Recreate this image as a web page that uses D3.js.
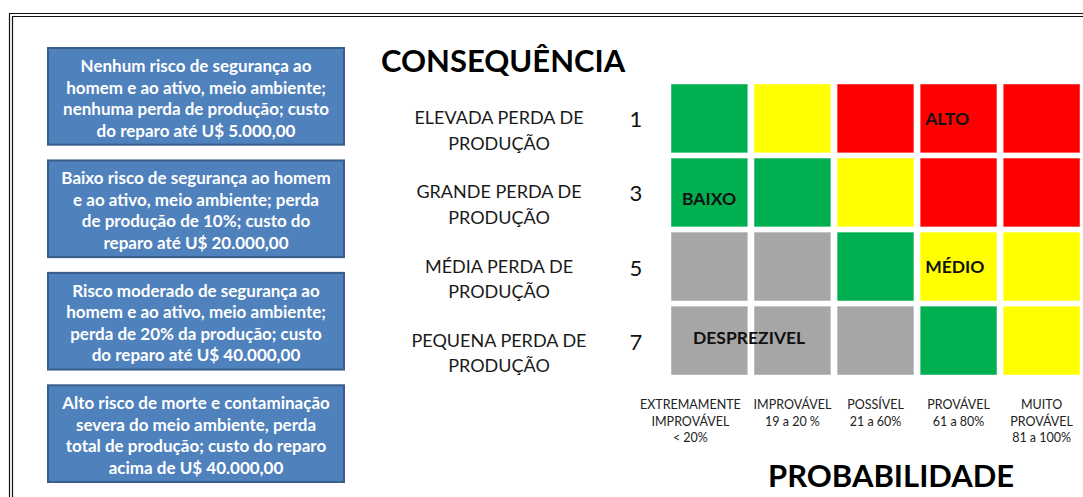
<!DOCTYPE html>
<html>
<head>
<meta charset="utf-8">
<script src="https://cdn.jsdelivr.net/npm/d3@7"></script>
<style>
  body { margin: 0; background: #fff; }
  svg { display: block; font-family: Lato, "Open Sans", sans-serif; }
</style>
</head>
<body>
<div id="chart"></div>
<script>
"use strict";

// probability columns (x) and consequence rows (y)
var probabilities = ["EXTREMAMENTE IMPROVÁVEL", "IMPROVÁVEL", "POSSÍVEL", "PROVÁVEL", "MUITO PROVÁVEL"];
var probabilityLines = [
    ["EXTREMAMENTE", "IMPROVÁVEL", "< 20%"],
    ["IMPROVÁVEL", "19 a 20 %"],
    ["POSSÍVEL", "21 a 60%"],
    ["PROVÁVEL", "61 a 80%"],
    ["MUITO", "PROVÁVEL", "81 a 100%"]
];
var consequences = ["1", "3", "5", "7"];
var consequenceLines = [
    ["ELEVADA PERDA DE", "PRODUÇÃO"],
    ["GRANDE PERDA DE", "PRODUÇÃO"],
    ["MÉDIA PERDA DE", "PRODUÇÃO"],
    ["PEQUENA PERDA DE", "PRODUÇÃO"]
];

// risk level of each cell, row by row
var riskMatrix = [
    ["baixo", "medio", "alto", "alto", "alto"],
    ["baixo", "baixo", "medio", "alto", "alto"],
    ["desprezivel", "desprezivel", "baixo", "medio", "medio"],
    ["desprezivel", "desprezivel", "desprezivel", "baixo", "medio"]
];

var riskLabels = [
    { text: "ALTO", row: 0, col: 3 },
    { text: "BAIXO", row: 1, col: 0 },
    { text: "MÉDIO", row: 2, col: 3 },
    { text: "DESPREZIVEL", row: 3, col: 0 }
];

var descriptions = [
    ["Nenhum risco de segurança ao", "homem e ao ativo, meio ambiente;", "nenhuma perda de produção; custo", "do reparo até U$ 5.000,00"],
    ["Baixo risco de segurança ao homem", "e ao ativo, meio ambiente; perda", "de produção de 10%; custo do", "reparo até U$ 20.000,00"],
    ["Risco moderado de segurança ao", "homem e ao ativo, meio ambiente;", "perda de 20% da produção; custo", "do reparo até  U$ 40.000,00"],
    ["Alto risco de morte e contaminação", "severa do meio ambiente, perda", "total de produção; custo do reparo", "acima de U$ 40.000,00"]
];

var colors = {
    desprezivel: "#a6a6a6",
    baixo: "#00b050",
    medio: "#ffff00",
    alto: "#ff0000"
};

var W = 1083, H = 497;

var svg = d3.select("#chart").append("svg")
    .attr("width", W)
    .attr("height", H);

// double frame line (top and left)
[0, 3].forEach(function(o) {
    svg.append("path")
        .attr("d", "M" + (9.5 + o) + "," + H + "V" + (13.5 + o) + "H" + W)
        .attr("fill", "none")
        .attr("stroke", "#111")
        .attr("stroke-width", 1.2);
});

// description boxes on the left
var yBox = d3.scaleBand()
    .domain(d3.range(descriptions.length))
    .range([48, 482])
    .paddingInner(0.14);

var box = svg.selectAll("g.desc")
    .data(descriptions)
    .enter()
    .append("g")
    .attr("class", "desc")
    .attr("transform", function(d, i) { return "translate(48," + yBox(i) + ")"; });

box.append("rect")
    .attr("width", 296)
    .attr("height", yBox.bandwidth())
    .attr("fill", "#4f81bd")
    .attr("stroke", "#385d8a")
    .attr("stroke-width", 2);

box.selectAll("text")
    .data(function(d) { return d; })
    .enter()
    .append("text")
    .attr("x", 148)
    .attr("y", function(d, i) { return 24 + i * 21.5; })
    .attr("text-anchor", "middle")
    .attr("fill", "#fff")
    .style("font-size", "17px")
    .style("font-weight", "bold")
    .text(function(d) { return d; });

// the matrix
var x = d3.scaleBand()
    .domain(probabilities)
    .range([671, 1080])
    .paddingInner(0.075);

var y = d3.scaleBand()
    .domain(consequences)
    .range([84, 375])
    .paddingInner(0.07);

var cells = [];
riskMatrix.forEach(function(row, r) {
    row.forEach(function(level, c) {
        cells.push({ row: r, col: c, level: level });
    });
});

svg.selectAll("rect.cell")
    .data(cells)
    .enter()
    .append("rect")
    .attr("class", "cell")
    .attr("x", function(d) { return x(probabilities[d.col]); })
    .attr("y", function(d) { return y(consequences[d.row]); })
    .attr("width", x.bandwidth())
    .attr("height", y.bandwidth())
    .attr("fill", function(d) { return colors[d.level]; })
    .attr("stroke", "rgba(255,255,255,0.45)")
    .attr("stroke-width", 1);

// label placement inside the cell (offset from cell corner)
var labelOffset = {
    "ALTO": [5, 41],
    "BAIXO": [11, 47],
    "MÉDIO": [5, 41],
    "DESPREZIVEL": [22, 38]
};

svg.selectAll("text.risk")
    .data(riskLabels)
    .enter()
    .append("text")
    .attr("class", "risk")
    .attr("x", function(d) { return x(probabilities[d.col]) + labelOffset[d.text][0]; })
    .attr("y", function(d) { return y(consequences[d.row]) + labelOffset[d.text][1]; })
    .attr("fill", "#111")
    .style("font-size", "17.5px")
    .style("font-weight", "bold")
    .text(function(d) { return d.text; });

// consequence title, row labels and numbers
svg.append("text")
    .attr("x", 381)
    .attr("y", 72)
    .style("font-size", "31px")
    .style("font-weight", "bold")
    .attr("fill", "#000")
    .text("CONSEQUÊNCIA");

var rowG = svg.selectAll("g.row")
    .data(consequences)
    .enter()
    .append("g")
    .attr("class", "row")
    .attr("transform", function(d) { return "translate(0," + (y(d) + y.bandwidth() / 2) + ")"; });

rowG.selectAll("text.rl")
    .data(function(d, i) { return consequenceLines[i]; })
    .enter()
    .append("text")
    .attr("class", "rl")
    .attr("x", 499)
    .attr("y", function(d, i) { return 6 + i * 25.5; })
    .attr("text-anchor", "middle")
    .attr("fill", "#1a1a1a")
    .style("font-size", "18px")
    .text(function(d) { return d; });

rowG.append("text")
    .attr("x", 636)
    .attr("y", 9)
    .attr("text-anchor", "middle")
    .attr("fill", "#111")
    .style("font-size", "22px")
    .text(function(d) { return d; });

// probability labels and title
var colG = svg.selectAll("g.col")
    .data(probabilities)
    .enter()
    .append("g")
    .attr("class", "col")
    .attr("transform", function(d, i) {
        var cx = x(d) + x.bandwidth() / 2 + (i === 0 ? -19 : 0);
        return "translate(" + cx + ",0)";
    });

colG.selectAll("text")
    .data(function(d, i) { return probabilityLines[i]; })
    .enter()
    .append("text")
    .attr("x", 0)
    .attr("y", function(d, i) { return 409 + i * 16.5; })
    .attr("text-anchor", "middle")
    .attr("fill", "#222")
    .style("font-size", "12.5px")
    .text(function(d) { return d; });

svg.append("text")
    .attr("x", 768)
    .attr("y", 487)
    .style("font-size", "31px")
    .style("font-weight", "bold")
    .attr("fill", "#000")
    .text("PROBABILIDADE");
</script>
</body>
</html>
